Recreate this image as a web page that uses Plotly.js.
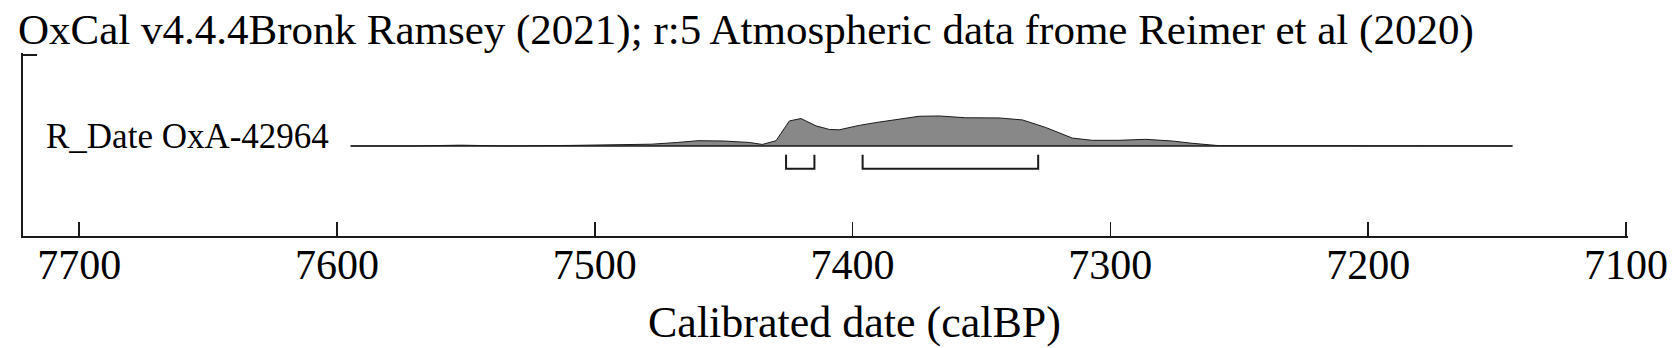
<!DOCTYPE html>
<html>
<head>
<meta charset="utf-8">
<script src="https://cdn.plot.ly/plotly-3.0.1.min.js"></script>
<style>
  html, body { margin: 0; padding: 0; background: #ffffff; }
  #chart { width: 1679px; height: 348px; }
</style>
</head>
<body>
<div id="chart"></div>
<script>
// ---- Data ----
const sampleName = "R_Date OxA-42964";
const chartTitle = "OxCal v4.4.4Bronk Ramsey (2021); r:5 Atmospheric data frome Reimer et al (2020)";
const xAxisLabel = "Calibrated date (calBP)";

// calibrated probability distribution (cal BP, relative probability)
const calDates = [7594.7, 7570, 7552, 7535, 7510, 7490, 7478, 7468, 7460, 7450, 7440, 7435,
                  7429.7, 7424.5, 7420, 7414.2, 7409, 7405.2, 7397.4, 7390, 7384.5, 7374.2,
                  7366.4, 7356.1, 7343.2, 7334.1, 7325.1, 7314.8, 7307, 7296.7, 7286.3, 7276,
                  7268.3, 7257.9, 7144];
const calProb = [0, 0, 0.026, 0, 0.017, 0.033, 0.059, 0.116, 0.175, 0.165, 0.116, 0.05,
                 0.175, 0.835, 0.914, 0.67, 0.551, 0.538, 0.686, 0.792, 0.868, 0.99,
                 1.0, 0.94, 0.934, 0.868, 0.617, 0.264, 0.188, 0.188, 0.221, 0.165,
                 0.089, 0.01, 0];

// highest probability density ranges (cal BP): [older, younger]
const rangeStart = [7425.8, 7396.1];
const rangeEnd   = [7414.8, 7328.0];

const tickValues = [7700, 7600, 7500, 7400, 7300, 7200, 7100];
const tickLabels = ["7700", "7600", "7500", "7400", "7300", "7200", "7100"];

// ---- Build traces ----
const FONT = "Liberation Serif";
const TICKFONT = "'Times New Roman', 'Liberation Serif', serif";
const INK = "#1a1a1a";

const distTrace = {
  x: calDates, y: calProb, type: "scatter", mode: "lines",
  fill: "tozeroy", fillcolor: "#888888",
  line: { color: INK, width: 1, shape: "linear" },
  hoverinfo: "skip", showlegend: false
};

const baseTrace = {
  x: [calDates[0], calDates[calDates.length - 1]], y: [0, 0],
  type: "scatter", mode: "lines",
  line: { color: INK, width: 1.6 }, hoverinfo: "skip", showlegend: false
};

const bTop = -0.297, bBot = -0.759;
const bx = [], by = [];
for (let i = 0; i < rangeStart.length; i++) {
  bx.push(rangeStart[i], rangeStart[i], rangeEnd[i], rangeEnd[i], null);
  by.push(bTop, bBot, bBot, bTop, null);
}
const bracketTrace = {
  x: bx, y: by, type: "scatter", mode: "lines",
  line: { color: INK, width: 2 }, hoverinfo: "skip", showlegend: false
};

const layout = {
  width: 1679, height: 348,
  margin: { l: 23, r: 51, t: 53, b: 112, pad: 0 },
  paper_bgcolor: "#ffffff", plot_bgcolor: "#ffffff",
  font: { family: FONT, color: "#000000" },
  showlegend: false,
  title: {
    text: chartTitle,
    font: { family: FONT, size: 43, color: "#000000" },
    xref: "container", x: 18 / 1679, xanchor: "left",
    yref: "container", y: 1 - 14 / 348, yanchor: "top"
  },
  xaxis: {
    range: [7721.8, 7099.2],
    tickmode: "array", tickvals: tickValues, ticktext: tickLabels,
    ticks: "inside", ticklen: 14, tickwidth: 1.5, tickcolor: INK,
    showline: true, linecolor: INK, linewidth: 2,
    showgrid: false, zeroline: false,
    tickfont: { family: TICKFONT, size: 42, color: "#000000", weight: "normal" },
    ticklabelstandoff: -9,
    fixedrange: true
  },
  yaxis: {
    range: [-3.003, 3.10],
    tickmode: "array", tickvals: [3.03], ticktext: [""],
    ticks: "inside", ticklen: 14, tickwidth: 2, tickcolor: INK,
    showline: true, linecolor: INK, linewidth: 2,
    showticklabels: false, showgrid: false, zeroline: false,
    fixedrange: true
  },
  annotations: [
    {
      text: sampleName, xref: "paper", x: (331 - 23) / 1605, xanchor: "right",
      yref: "y", y: 0.3, yanchor: "middle", showarrow: false,
      font: { family: FONT, size: 35, color: "#000000" }
    },
    {
      text: xAxisLabel, xref: "paper", x: (854 - 23) / 1605, xanchor: "center",
      yref: "paper", y: -0.33, yanchor: "top", showarrow: false,
      font: { family: FONT, size: 44, color: "#000000" }
    }
  ]
};

Plotly.newPlot("chart", [distTrace, baseTrace, bracketTrace], layout,
  { displayModeBar: false, staticPlot: true });
</script>
</body>
</html>
